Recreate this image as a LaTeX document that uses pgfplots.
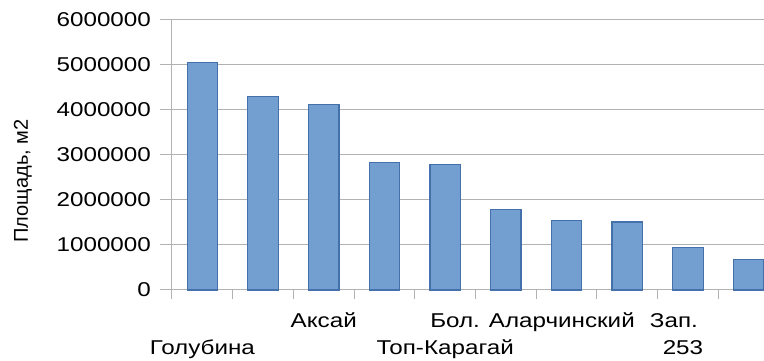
\documentclass[border=0pt]{standalone}
\usepackage{pgfplots}
\pgfplotsset{compat=1.18}
\usepackage{fontspec}
\setmainfont{Liberation Sans}[FakeStretch=1.21]
\newfontfamily\uprightlabel{Liberation Sans}
\definecolor{barfill}{RGB}{114,159,207}
\definecolor{baredge}{RGB}{68,112,172}
\definecolor{gridgray}{RGB}{178,178,178}

\begin{document}
\fontsize{20}{24}\selectfont
\begin{tikzpicture}[x=1pt,y=1pt]
\path[use as bounding box] (0,0) rectangle (764,361);
\begin{axis}[
  at={(172pt,71pt)}, anchor=south west,
  scale only axis, width=607pt, height=270pt,
  xmin=-0.5, xmax=9.5, ymin=0, ymax=6000000,
  axis lines*=left,
  axis line style={gridgray, line width=1pt},
  ymajorgrids, grid style={gridgray, line width=1pt},
  tick align=outside,
  major tick style={gridgray, line width=1pt},
  ytick={0,1000000,2000000,3000000,4000000,5000000,6000000},
  scaled y ticks=false,
  yticklabel style={/pgf/number format/fixed, /pgf/number format/1000 sep={},
    /pgf/number format/assume math mode=true, anchor=east},
  yticklabel shift=10pt,
  ytick style={/pgfplots/major tick length=12pt},
  xtick={-0.5,0.5,...,9.5}, xticklabels={},
  xtick style={/pgfplots/major tick length=9pt},
  ybar, bar width=30.35pt,
  clip=false,
]
\addplot[fill=barfill, draw=baredge, line width=1.2pt] coordinates {
  (0,5060000) (1,4300000) (2,4130000) (3,2836000) (4,2790000)
  (5,1780000) (6,1540000) (7,1510000) (8,945000) (9,670000)};
% category names, set in two staggered rows
\node[anchor=base, yshift=-64.3pt] at (axis cs:0,0) {Голубина};
\node[anchor=base, yshift=-37.3pt] at (axis cs:2,0) {Аксай};
\node[anchor=base, yshift=-64.3pt] at (axis cs:4,0) {Топ-Карагай};
\node[anchor=base, yshift=-37.3pt, xshift=-34pt] at (axis cs:6,0) {Бол. Аларчинский};
\node[anchor=base, yshift=-37.3pt, xshift=-14pt] at (axis cs:8,0) {Зап.};
\node[anchor=base, yshift=-64.3pt, xshift=-5pt] at (axis cs:8,0) {253};
\end{axis}
\node[rotate=90, font=\uprightlabel] at (23,180) {Площадь, м2};
\end{tikzpicture}
\end{document}
